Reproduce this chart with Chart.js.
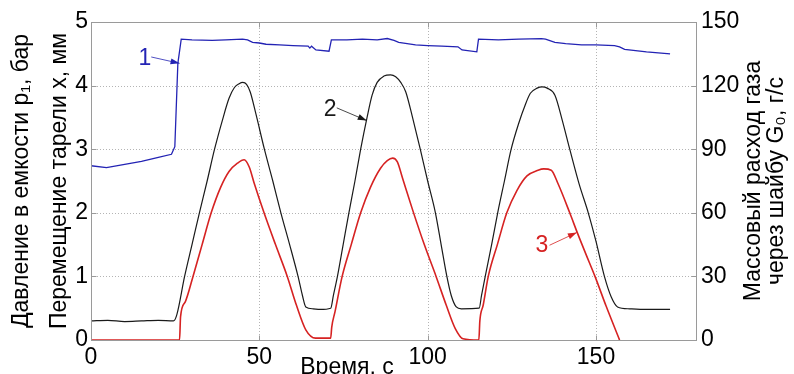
<!DOCTYPE html>
<html>
<head>
<meta charset="utf-8">
<script src="https://cdn.jsdelivr.net/npm/chart.js@4.4.1/dist/chart.umd.min.js"></script>
<style>
  html, body { margin: 0; padding: 0; background: #fff; }
  canvas { display: block; }
</style>
</head>
<body>
<canvas id="flowChart" width="794" height="374"></canvas>
<script>
// axis ticks
const xTicks = [0, 50, 100, 150];
const pTicks = [0, 1, 2, 3, 4, 5];
const gTicks = [0, 30, 60, 90, 120, 150];

// curve 1 - pressure in the vessel p1, bar
const blueTime = [0, 4.6, 10, 15, 20, 23.9, 24.9, 25.8, 26.8, 30, 36, 40, 45, 46.5, 48, 50, 52, 56, 60, 64.5,
  65, 65.5, 66.8, 70.7, 71.4, 76, 80.6, 85, 88, 90, 91.4, 96.4, 100, 104.2, 109, 110.2, 114.6, 115.1, 121, 127,
  133.8, 135, 137.8, 141, 145.7, 150, 155.5, 157, 158.5, 165, 172];
const bluePressure = [2.74, 2.71, 2.76, 2.81, 2.87, 2.92, 3.04, 4.35, 4.73, 4.72, 4.71, 4.72, 4.73, 4.72, 4.68, 4.67, 4.65, 4.64, 4.63, 4.62,
  4.59, 4.62, 4.56, 4.54, 4.72, 4.72, 4.73, 4.72, 4.74, 4.71, 4.68, 4.64, 4.63, 4.62, 4.61, 4.56, 4.53, 4.73, 4.72, 4.73,
  4.74, 4.73, 4.68, 4.66, 4.64, 4.64, 4.63, 4.61, 4.57, 4.53, 4.50];

// curve 2 - plate displacement x, mm
const blackTime = [0, 5, 10, 15, 20, 24.5, 25.5, 27.8, 30, 32.2, 34.5, 36.7, 39, 41, 42.6, 44, 45.1, 46.2, 47.3, 49,
  51.5, 54, 56.4, 59, 61.5, 62.8, 63.8, 66, 68, 71.2, 72, 73.2, 74.9, 76.6, 78.4, 80.1, 82, 83.5, 85, 87,
  89, 90.5, 92, 93.5, 95.5, 97.8, 100, 102.3, 104, 105.7, 107, 108.5, 110, 115.3, 116, 117.1, 119, 120.8, 122.8, 124.8,
  127, 129, 130.5, 132.5, 134, 135.5, 137.8, 140, 142.2, 145, 147.7, 150, 152.5, 154.5, 156.4, 160, 165, 172];
const blackShift = [0.30, 0.31, 0.29, 0.30, 0.31, 0.30, 0.40, 1.0, 1.5, 2.0, 2.5, 3.0, 3.45, 3.8, 3.97, 4.03, 4.05, 4.02, 3.9, 3.55,
  3.0, 2.5, 2.0, 1.5, 1.0, 0.7, 0.52, 0.49, 0.48, 0.50, 0.7, 1.0, 1.5, 2.0, 2.5, 3.0, 3.5, 3.85, 4.05, 4.15,
  4.17, 4.14, 4.05, 3.9, 3.5, 3.0, 2.5, 2.0, 1.5, 1.0, 0.7, 0.52, 0.49, 0.50, 0.7, 1.0, 1.5, 2.0, 2.5, 3.0,
  3.4, 3.7, 3.88, 3.96, 3.98, 3.96, 3.85, 3.45, 3.0, 2.45, 2.0, 1.55, 1.0, 0.68, 0.52, 0.49, 0.48, 0.48];

// curve 3 - gas mass flow through the orifice G0, g/s
const redTime = [0, 26.3, 26.6, 28, 30.3, 33, 35.7, 38.5, 41, 43.5, 45.5, 47, 48.5, 51.4, 54.8, 58.3, 61, 63.8, 66.7, 71.2,
  71.5, 72.5, 74.6, 77.3, 80.1, 83, 86, 88, 89.6, 91, 92.5, 95.5, 99, 102.5, 105.5, 108.2, 110.5, 115.2, 115.5, 116.5,
  118, 120.7, 123.5, 126.5, 129.5, 132.8, 134.5, 136.7, 138.7, 142.2, 144.5, 147, 149.7, 153, 157];
const redFlow = [0, 0, 11, 18, 30, 45, 60, 72, 79.5, 83.4, 85, 81.6, 73.8, 60, 45, 30, 16.5, 4.8, 0.9, 0.9,
  6, 13.5, 30, 45, 60, 72, 81, 84.6, 85.8, 84, 76.5, 61.5, 45, 30, 16.5, 5.4, 0.6, 0, 9, 16.5,
  30, 45, 60, 70.5, 77.4, 80.1, 80.7, 80.1, 73.8, 60, 50.4, 40.5, 30, 16, 0];

const FONT = '"Liberation Sans", Arial, Helvetica, sans-serif';
const BLUE = '#2323b4';
const BLACK = '#1a1a1a';
const RED = '#d62222';
const AXIS = '#9a9a9a';

// numbered callouts, placed in (time, left axis) units
const callouts = [
  { text: '1', color: BLUE, at: [16, 4.43], from: [17.9, 4.45], to: [26.3, 4.35] },
  { text: '2', color: BLACK, at: [71, 3.62], from: [73, 3.65], to: [81.9, 3.45] },
  { text: '3', color: RED, at: [133.9, 1.49], from: [136.2, 1.49], to: [144.3, 1.69] }
];

const pts = (t, v) => t.map((x, i) => ({ x: x, y: v[i] }));
const fixTicks = list => axis => { axis.ticks = list.map(v => ({ value: v })); };

const extras = {
  id: 'extras',
  beforeDatasetsDraw(chart) {
    // matlab style dotted grid
    const { ctx, chartArea: a, scales } = chart;
    ctx.save();
    ctx.strokeStyle = '#b4b4b4';
    ctx.lineWidth = 1;
    ctx.setLineDash([1, 2]);
    ctx.beginPath();
    xTicks.forEach(v => {
      const px = Math.round(scales.x.getPixelForValue(v)) + 0.5;
      if (px > a.left + 2 && px < a.right - 2) { ctx.moveTo(px, a.top); ctx.lineTo(px, a.bottom); }
    });
    pTicks.forEach(v => {
      const py = Math.round(scales.y.getPixelForValue(v)) + 0.5;
      if (py > a.top + 2 && py < a.bottom - 2) { ctx.moveTo(a.left, py); ctx.lineTo(a.right, py); }
    });
    ctx.stroke();
    ctx.restore();
  },
  afterDatasetsDraw(chart) {
    const { ctx, scales } = chart;
    const sx = scales.x, sy = scales.y;
    ctx.save();
    ctx.font = '23px ' + FONT;
    ctx.textAlign = 'center';
    ctx.textBaseline = 'middle';
    callouts.forEach(c => {
      const x0 = sx.getPixelForValue(c.from[0]), y0 = sy.getPixelForValue(c.from[1]);
      const x1 = sx.getPixelForValue(c.to[0]), y1 = sy.getPixelForValue(c.to[1]);
      ctx.fillStyle = c.color;
      ctx.fillText(c.text, sx.getPixelForValue(c.at[0]), sy.getPixelForValue(c.at[1]));
      ctx.strokeStyle = c.color;
      ctx.lineWidth = 0.8;
      ctx.beginPath();
      ctx.moveTo(x0, y0);
      ctx.lineTo(x1, y1);
      ctx.stroke();
      const ang = Math.atan2(y1 - y0, x1 - x0);
      ctx.beginPath();
      ctx.moveTo(x1, y1);
      ctx.lineTo(x1 - 9 * Math.cos(ang) + 3 * Math.sin(ang), y1 - 9 * Math.sin(ang) - 3 * Math.cos(ang));
      ctx.lineTo(x1 - 9 * Math.cos(ang) - 3 * Math.sin(ang), y1 - 9 * Math.sin(ang) + 3 * Math.cos(ang));
      ctx.closePath();
      ctx.fill();
    });
    ctx.restore();
  },
  afterDraw(chart) {
    const { ctx, chartArea: a, scales } = chart;
    ctx.save();
    // axes box with small inward ticks
    ctx.strokeStyle = AXIS;
    ctx.lineWidth = 1;
    const L = Math.round(a.left) + 0.5, R = Math.round(a.right) - 0.5;
    const T = Math.round(a.top) + 0.5, B = Math.round(a.bottom) + 0.5;
    ctx.strokeRect(L, T, R - L, B - T);
    ctx.beginPath();
    xTicks.forEach(v => {
      const px = Math.round(scales.x.getPixelForValue(v)) + 0.5;
      ctx.moveTo(px, B); ctx.lineTo(px, B - 5);
      ctx.moveTo(px, T); ctx.lineTo(px, T + 5);
    });
    pTicks.forEach(v => {
      const py = Math.round(scales.y.getPixelForValue(v)) + 0.5;
      ctx.moveTo(L, py); ctx.lineTo(L + 5, py);
      ctx.moveTo(R, py); ctx.lineTo(R - 5, py);
    });
    ctx.stroke();
    ctx.fillStyle = '#000';
    ctx.font = '23px ' + FONT;
    // time axis title
    ctx.textAlign = 'center';
    ctx.textBaseline = 'alphabetic';
    ctx.fillText('Время, с', a.left + 256, a.bottom + 34);
    // right axis title, reads bottom to top
    ctx.translate(a.right + 57, (a.top + a.bottom) / 2);
    ctx.rotate(-Math.PI / 2);
    ctx.textBaseline = 'middle';
    ctx.fillText('Массовый расход газа', 0, 0);
    ctx.fillText('через шайбу G\u2080, г/с', 0, 23);
    ctx.restore();
  }
};

new Chart(document.getElementById('flowChart'), {
  type: 'line',
  data: {
    datasets: [
      { label: 'p1', data: pts(blueTime, bluePressure), yAxisID: 'y', borderColor: BLUE, borderWidth: 1.3, tension: 0 },
      { label: 'x', data: pts(blackTime, blackShift), yAxisID: 'y', borderColor: BLACK, borderWidth: 1.2, cubicInterpolationMode: 'monotone' },
      { label: 'G0', data: pts(redTime, redFlow), yAxisID: 'y1', borderColor: RED, borderWidth: 1.6, cubicInterpolationMode: 'monotone' }
    ]
  },
  options: {
    responsive: false,
    animation: false,
    events: [],
    elements: { point: { radius: 0 } },
    layout: { padding: { top: 22, left: 0, right: 0, bottom: 0 } },
    plugins: { legend: { display: false }, tooltip: { enabled: false } },
    scales: {
      x: {
        type: 'linear',
        min: 0,
        max: 180,
        afterBuildTicks: fixTicks(xTicks),
        afterFit: axis => { axis.height = 34; },
        grid: { display: false, drawTicks: false },
        border: { display: false },
        ticks: { font: { family: FONT, size: 23 }, color: '#000', padding: 4, autoSkip: false, maxRotation: 0 }
      },
      y: {
        position: 'left',
        min: 0,
        max: 5,
        afterBuildTicks: fixTicks(pTicks),
        afterFit: axis => { axis.width = 91; },
        grid: { display: false, drawTicks: false },
        border: { display: false },
        ticks: { font: { family: FONT, size: 23 }, color: '#000', padding: 3 },
        title: {
          display: true,
          text: ['Давление в емкости p\u2081, бар', 'Перемещение тарели x, мм'],
          font: { family: FONT, size: 23, lineHeight: 1.65 },
          color: '#000',
          padding: { top: 3, bottom: 0 }
        }
      },
      y1: {
        position: 'right',
        min: 0,
        max: 150,
        afterBuildTicks: fixTicks(gTicks),
        afterFit: axis => { axis.width = 97; },
        grid: { display: false, drawTicks: false },
        border: { display: false },
        ticks: { font: { family: FONT, size: 23 }, color: '#000', padding: 4 }
      }
    }
  },
  plugins: [extras]
});
</script>
</body>
</html>
